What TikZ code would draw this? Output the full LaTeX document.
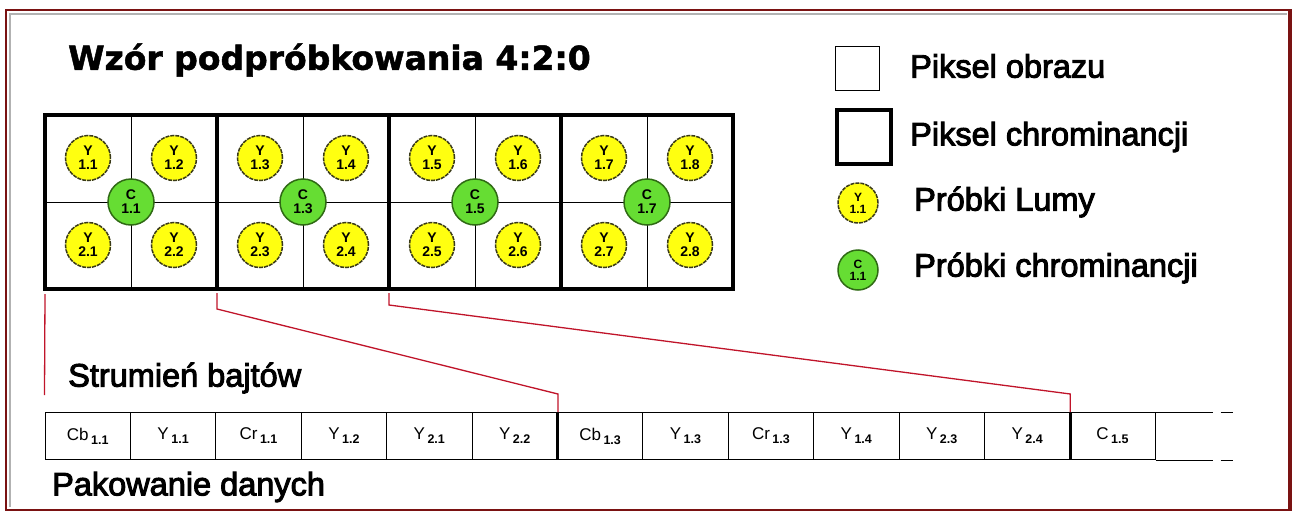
\documentclass[tikz,border=0pt]{standalone}
\usepackage{fontspec}
\setmainfont{Liberation Sans}
\newfontfamily\titlefont{DejaVu Sans}[BoldFeatures={FakeBold=1.5}]
\newfontfamily\legfont{Liberation Sans}[FakeBold=3]
\usetikzlibrary{positioning}
\definecolor{framered}{HTML}{7A1212}
\definecolor{linkred}{HTML}{C0142A}
\definecolor{lumayellow}{HTML}{FFFF10}
\definecolor{lumaedge}{HTML}{3A3A18}
\definecolor{chromagreen}{HTML}{66DD33}
\definecolor{chromaedge}{HTML}{2F6A14}
\newcommand\bsub[1]{\kern2.5pt\raisebox{-4pt}{\fontsize{12.5}{12}\selectfont\bfseries #1}}

\tikzset{
  luma/.style={circle, draw=lumaedge, fill=lumayellow, line width=1.5pt,
    dash pattern=on 4pt off 1pt, minimum size=45pt, inner sep=0pt,
    align=center, font=\fontsize{14}{14}\selectfont\bfseries},
  chroma/.style={luma, draw=chromaedge, fill=chromagreen, solid, minimum size=46pt},
  legtext/.style={anchor=west, inner sep=0pt, font=\legfont\fontsize{32.5}{32}\selectfont},
  bytebox/.style={draw, line width=1pt, minimum width=85.4pt, minimum height=47pt,
    inner sep=0pt, font=\fontsize{17}{17}\selectfont},
  link/.style={linkred, line width=1.3pt},
}

\begin{document}
\begin{tikzpicture}[x=1pt, y=-1pt]
  \useasboundingbox (0,0) rectangle (1295,514);
  % frame with bevel
  \draw[framered, line width=2.5pt] (6,10) rectangle (1291,510);
  \draw[framered, line width=4pt] (1290,10) -- (1290,510);
  \draw[black!30, line width=2.5pt] (10,507) -- (10,14) -- (1287,14);

  \node[anchor=west, inner sep=0pt, font=\titlefont\bfseries\fontsize{33}{33}\selectfont]
    (title) at (68,60) {Wzór podpróbkowania 4:2:0};

  % pixel grid
  \foreach \x in {131,303,475,647}
    \draw[line width=1pt] (\x,115) -- (\x,289);
  \draw[line width=1pt] (45,202) -- (733,202);
  \foreach \x in {217,389,561}
    \draw[line width=4pt] (\x,115) -- (\x,289);
  \draw[line width=4pt] (45,115) rectangle (733,289);
  \coordinate (g0) at (45,289);
  \coordinate (g1) at (217,289);
  \coordinate (g2) at (389,289);

  % luma and chroma samples
  \foreach \k in {0,...,3}{
    \pgfmathtruncatemacro\ca{2*\k+1}
    \pgfmathtruncatemacro\cb{2*\k+2}
    \pgfmathsetmacro\bx{45+172*\k}
    \node[luma] (y1\ca) at (\bx+43,158) {Y\\1.\ca};
    \node[luma] (y1\cb) at (\bx+129,158) {Y\\1.\cb};
    \node[luma] (y2\ca) at (\bx+43,245) {Y\\2.\ca};
    \node[luma] (y2\cb) at (\bx+129,245) {Y\\2.\cb};
    \node[chroma] (c1\ca) at (\bx+86,202) {C\\1.\ca};
  }

  % legend
  \node[draw, line width=1pt, minimum size=44pt, inner sep=0pt] (lgpix) at (857,68) {};
  \node[legtext] (lgpixtxt) at (910,66) {Piksel obrazu};
  \node[draw, line width=4.5pt, minimum size=54pt, inner sep=0pt] (lgchr) at (864,137) {};
  \node[legtext] (lgchrtxt) at (910,137) {Piksel chrominancji};
  \node[luma, minimum size=40pt, font=\fontsize{12}{12}\selectfont\bfseries] (lgluma) at (858,203) {Y\\1.1};
  \node[legtext] (lglumatxt) at (914,202) {Próbki Lumy};
  \node[chroma, minimum size=40pt, font=\fontsize{12}{12}\selectfont\bfseries] (lgchroma) at (858,270) {C\\1.1};
  \node[legtext] (lgchromatxt) at (914,268) {Próbki chrominancji};

  % byte stream
  \node[legtext] (streamtxt) at (68,378) {Strumień bajtów};
  \foreach \t [count=\n] in {Cb\bsub{1.1}, Y\bsub{1.1}, Cr\bsub{1.1}, Y\bsub{1.2},
      Y\bsub{2.1}, Y\bsub{2.2}, Cb\bsub{1.3}, Y\bsub{1.3}, Cr\bsub{1.3}, Y\bsub{1.4},
      Y\bsub{2.3}, Y\bsub{2.4}, C\bsub{1.5}}
    \node[bytebox] (b\n) at (45+85.4*\n-42.7,436) {\t};
  \draw[line width=3pt] (b6.north east) -- (b6.south east);
  \draw[line width=3pt] (b12.north east) -- (b12.south east);
  \draw[line width=1pt] (b13.north east) -- ++(57,0) coordinate (opentop);
  \draw[line width=1pt] (b13.south east) -- ++(57,0) coordinate (openbot);
  \draw[line width=1pt] ([xshift=8pt]opentop) -- ++(12,0);
  \draw[line width=1pt] ([xshift=8pt]openbot) -- ++(12,0);
  \node[legtext] (packtxt) at (52,487) {Pakowanie danych};

  % links from chroma pixels to the stream
  \draw[link] ([yshift=-5pt]g0) -- ([yshift=17pt]b1.north west);
  \draw[link] ([yshift=-4pt]g1) -- ++(0,16) -- ([yshift=18pt]b6.north east) -- (b6.north east);
  \draw[link] ([yshift=-4pt]g2) -- ++(0,12) -- ([yshift=18pt]b12.north east) -- (b12.north east);
\end{tikzpicture}
\end{document}
